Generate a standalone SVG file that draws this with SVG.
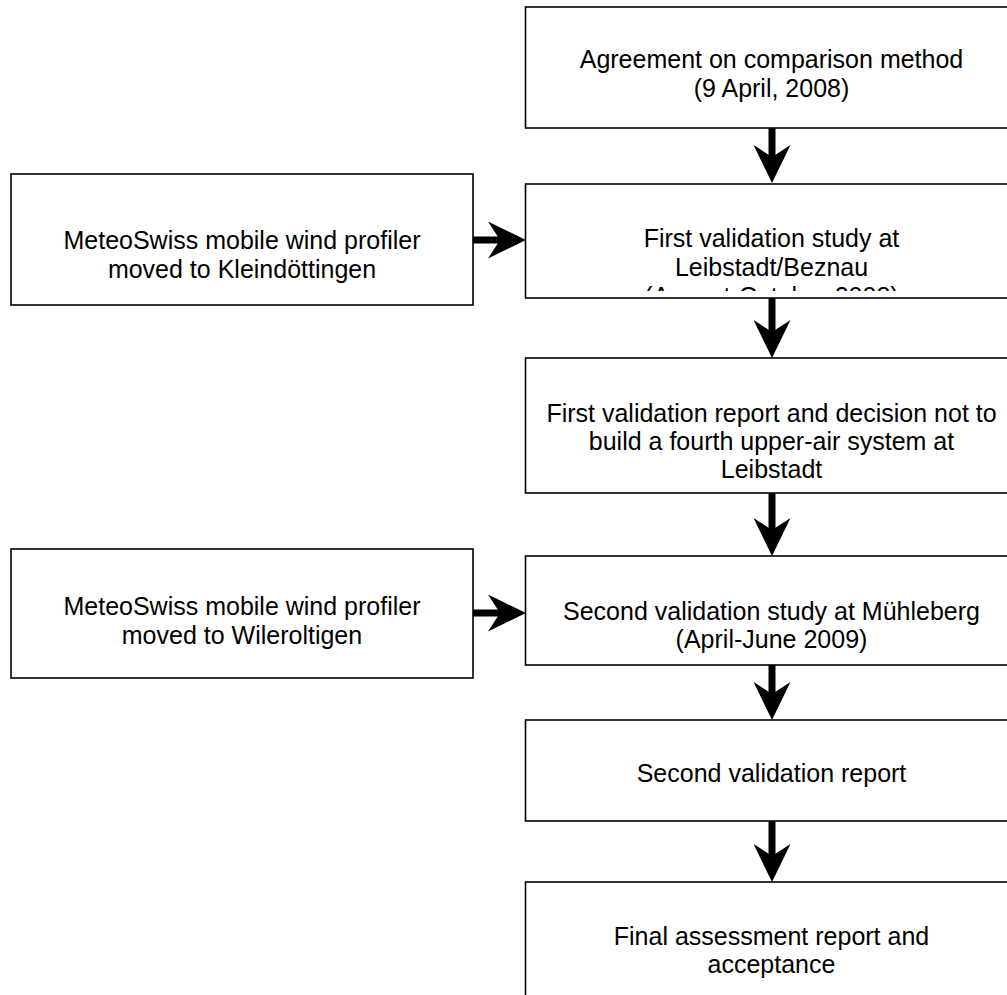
<svg xmlns="http://www.w3.org/2000/svg" width="1007" height="995" viewBox="0 0 1007 995">
<style>
.box{fill:#fff;stroke:#000;stroke-width:1.6}
.t{font-family:"Liberation Sans",Arial,Helvetica,sans-serif;font-size:25px;fill:#000;text-anchor:middle}
.c{fill:none;stroke:#000;stroke-width:7}
</style>
<defs>
<marker id="ah" markerUnits="userSpaceOnUse" viewBox="0 0 38 37" markerWidth="38" markerHeight="37" refX="16" refY="18.5" orient="auto">
<path d="M0,0 L38,18.5 L0,37 L12,18.5 Z" fill="#000"/>
</marker>
<clipPath id="clipB"><rect x="525" y="184" width="500" height="107"/></clipPath>
</defs>
<rect width="1007" height="995" fill="#fff"/>
<g id="n1"><rect class="box" x="525.5" y="7" width="500" height="121"/>
<text class="t" x="771.5" y="68">Agreement on comparison method</text>
<text class="t" x="771.5" y="97">(9 April, 2008)</text></g>
<g id="n2"><rect class="box" x="11" y="174" width="462" height="131"/>
<text class="t" x="242" y="249">MeteoSwiss mobile wind profiler</text>
<text class="t" x="242" y="278">moved to Kleindöttingen</text></g>
<g id="n3"><rect class="box" x="525.5" y="184" width="500" height="114"/>
<g clip-path="url(#clipB)">
<text class="t" x="771.5" y="247">First validation study at</text>
<text class="t" x="771.5" y="276">Leibstadt/Beznau</text>
<text class="t" x="771.5" y="305">(August-October 2008)</text></g></g>
<g id="n4"><rect class="box" x="525.5" y="358" width="500" height="135"/>
<text class="t" x="771.5" y="422">First validation report and decision not to</text>
<text class="t" x="771.5" y="450">build a fourth upper-air system at</text>
<text class="t" x="771.5" y="478">Leibstadt</text></g>
<g id="n5"><rect class="box" x="11" y="549" width="462" height="129"/>
<text class="t" x="242" y="615">MeteoSwiss mobile wind profiler</text>
<text class="t" x="242" y="644">moved to Wileroltigen</text></g>
<g id="n6"><rect class="box" x="525.5" y="556" width="500" height="109"/>
<text class="t" x="771.5" y="620">Second validation study at Mühleberg</text>
<text class="t" x="771.5" y="648">(April-June 2009)</text></g>
<g id="n7"><rect class="box" x="525.5" y="720" width="500" height="101"/>
<text class="t" x="771.5" y="782">Second validation report</text></g>
<g id="n8"><rect class="box" x="525.5" y="882" width="500" height="130"/>
<text class="t" x="771.5" y="945">Final assessment report and</text>
<text class="t" x="771.5" y="973">acceptance</text></g>
<g id="connectors">
<line class="c" x1="772" y1="128" x2="772" y2="161" marker-end="url(#ah)"/>
<line class="c" x1="772" y1="298" x2="772" y2="336" marker-end="url(#ah)"/>
<line class="c" x1="772" y1="493" x2="772" y2="534" marker-end="url(#ah)"/>
<line class="c" x1="772" y1="665" x2="772" y2="698" marker-end="url(#ah)"/>
<line class="c" x1="772" y1="821" x2="772" y2="860" marker-end="url(#ah)"/>
<line class="c" x1="473" y1="240" x2="504" y2="240" marker-end="url(#ah)"/>
<line class="c" x1="473" y1="613" x2="504" y2="613" marker-end="url(#ah)"/>
</g>
</svg>
